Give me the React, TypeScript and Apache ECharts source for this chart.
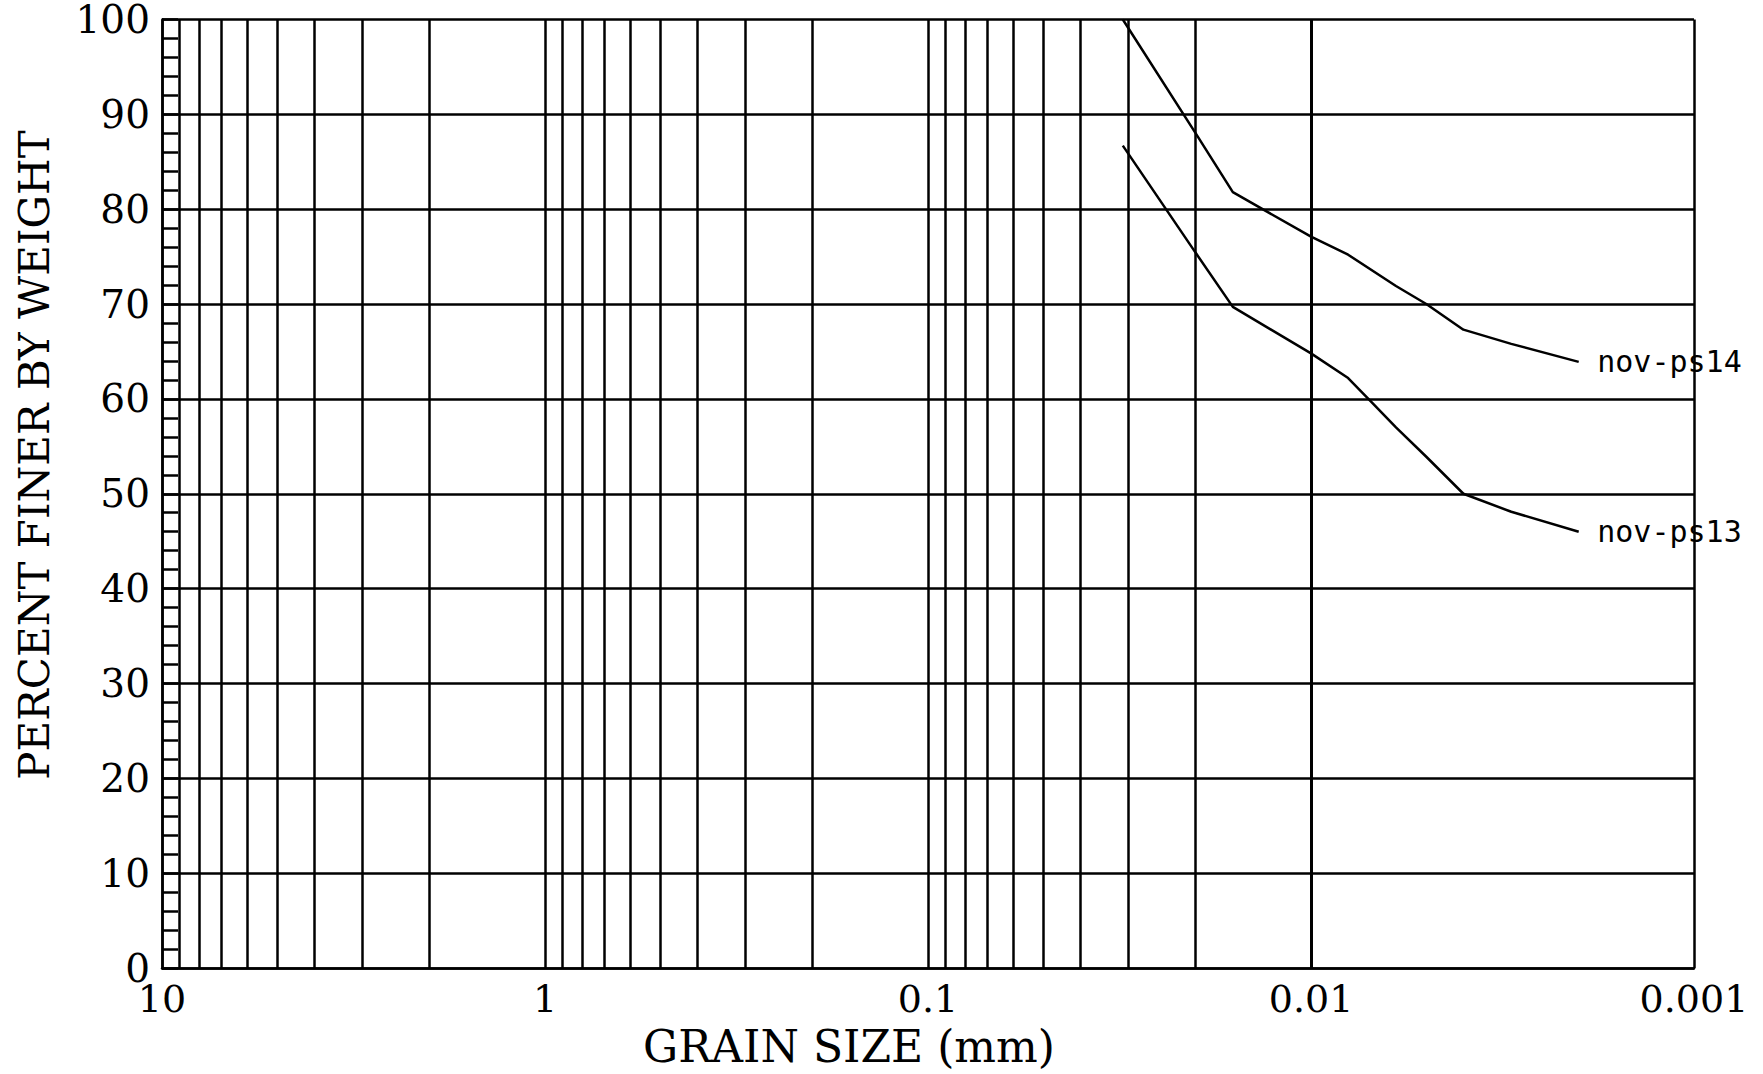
import React, { useEffect, useRef } from "react";
import * as echarts from "echarts";

// Grain sizes (mm) and percent finer for each sample
const sizesPs14 = [0.031, 0.02, 0.016, 0.01, 0.008, 0.006, 0.005, 0.004, 0.003, 0.002];
const finerPs14 = [100, 88, 81.8, 77.1, 75.2, 71.9, 70.0, 67.3, 65.8, 63.9];

const sizesPs13 = [0.031, 0.02, 0.016, 0.01, 0.008, 0.007, 0.006, 0.005, 0.004, 0.003, 0.002];
const finerPs13 = [86.7, 75.4, 69.7, 64.8, 62.2, 59.8, 57.0, 53.9, 50.0, 48.1, 46.0];

const seriesNames = ["nov-ps14", "nov-ps13"];

// Axis ticks
const xTickValues = [10, 1, 0.1, 0.01, 0.001];
const xTickLabels = ["10", "1", "0.1", "0.01", "0.001"];
const yTickValues = [0, 10, 20, 30, 40, 50, 60, 70, 80, 90, 100];

// Intermediate log grid lines (2..9 × each decade)
const decades = [1, 0.1, 0.01, 0.001];
const multipliers = [2, 3, 4, 5, 6, 7, 8, 9];

const xTitle = "GRAIN SIZE (mm)";
const yTitle = "PERCENT FINER BY WEIGHT";

const BLACK = "#000";
const SERIF = '"DejaVu Serif", serif';
const MONO = '"DejaVu Sans Mono", monospace';
const LW = 2.5;

export default function App() {
  const ref = useRef<HTMLDivElement>(null);

  useEffect(() => {
    if (!ref.current) return;
    const chart = echarts.init(ref.current, undefined, { renderer: "svg" });

    const gridXs: number[] = [];
    decades.forEach((d) =>
      multipliers.forEach((m) => gridXs.push(Number((m * d).toPrecision(6))))
    );

    const toPairs = (xs: number[], ys: number[]) => xs.map((x, i) => [x, ys[i]]);

    const labelFor = (v: number) => {
      const idx = xTickValues.findIndex((t) => Math.abs(Math.log10(t) - Math.log10(v)) < 1e-6);
      return idx >= 0 ? xTickLabels[idx] : "";
    };

    const endMark = (xs: number[], ys: number[], name: string) => ({
      silent: true,
      symbol: "circle",
      symbolSize: 1,
      itemStyle: { color: "rgba(0,0,0,0)" },
      label: {
        show: true,
        position: "right",
        distance: 18,
        formatter: name,
        color: BLACK,
        fontFamily: MONO,
        fontSize: 30,
      },
      data: [{ coord: [xs[xs.length - 1], ys[ys.length - 1]] }],
    });

    const lineCommon = {
      type: "line" as const,
      symbol: "none",
      lineStyle: { color: BLACK, width: LW },
      itemStyle: { color: BLACK },
      z: 5,
      silent: true,
    };

    const option: any = {
      animation: false,
      backgroundColor: "#fff",
      grid: { left: 162, right: 69, top: 19, bottom: 106, containLabel: false },
      xAxis: {
        type: "log",
        logBase: 10,
        min: 0.001,
        max: 10,
        inverse: true,
        axisLine: { show: true, lineStyle: { color: BLACK, width: LW } },
        axisTick: { show: false },
        splitLine: { show: true, lineStyle: { color: BLACK, width: LW } },
        axisLabel: {
          show: true,
          color: BLACK,
          fontFamily: SERIF,
          fontSize: 38,
          lineHeight: 30,
          margin: 16,
          formatter: (v: number) => labelFor(v),
        },
      },
      yAxis: {
        type: "value",
        min: 0,
        max: 100,
        interval: 10,
        axisLine: { show: true, lineStyle: { color: BLACK, width: LW } },
        axisTick: { show: true, inside: true, length: 16, lineStyle: { color: BLACK, width: LW } },
        minorTick: { show: true, splitNumber: 5, length: 16, lineStyle: { color: BLACK, width: LW } },
        splitLine: { show: true, lineStyle: { color: BLACK, width: LW } },
        axisLabel: {
          show: true,
          color: BLACK,
          fontFamily: SERIF,
          fontSize: 39,
          lineHeight: 30,
          margin: 12,
          formatter: (v: number) => (yTickValues.includes(v) ? String(v) : ""),
        },
      },
      graphic: [
        {
          type: "text",
          x: 849,
          y: 1046,
          style: {
            text: xTitle,
            font: `44px ${SERIF}`,
            fill: BLACK,
            textAlign: "center",
            textVerticalAlign: "middle",
          },
        },
        {
          type: "text",
          x: 34,
          y: 455,
          rotation: Math.PI / 2,
          style: {
            text: yTitle,
            font: `42px ${SERIF}`,
            fill: BLACK,
            textAlign: "center",
            textVerticalAlign: "middle",
          },
        },
      ],
      series: [
        {
          ...lineCommon,
          name: seriesNames[0],
          data: toPairs(sizesPs14, finerPs14),
          markPoint: endMark(sizesPs14, finerPs14, seriesNames[0]),
          markLine: {
            silent: true,
            symbol: ["none", "none"],
            label: { show: false },
            lineStyle: { color: BLACK, width: LW, type: "solid" },
            z: 2,
            data: gridXs.map((x) => ({ xAxis: x })),
          },
        },
        {
          ...lineCommon,
          name: seriesNames[1],
          data: toPairs(sizesPs13, finerPs13),
          markPoint: endMark(sizesPs13, finerPs13, seriesNames[1]),
        },
      ],
    };

    chart.setOption(option);
    return () => chart.dispose();
  }, []);

  return (
    <div
      ref={ref}
      style={{ position: "fixed", left: 0, top: 0, width: 1763, height: 1074, background: "#fff" }}
    />
  );
}
